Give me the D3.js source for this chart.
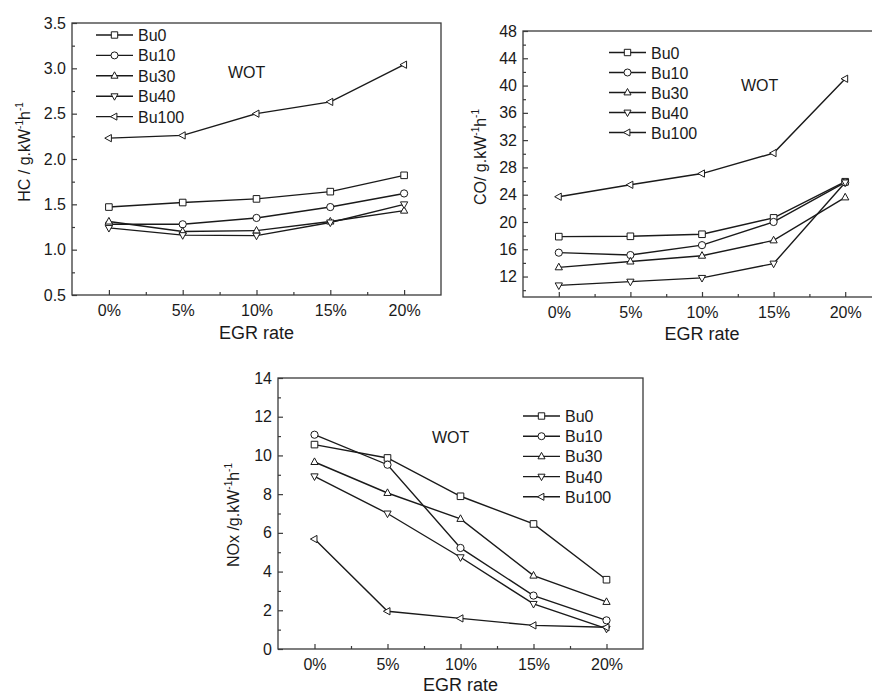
<!DOCTYPE html>
<html>
<head>
<meta charset="utf-8">
<script src="https://cdn.jsdelivr.net/npm/d3@7"></script>
<style>
  body { margin: 0; background: #fff; }
  svg { display: block; font-family: "Liberation Sans", Arial, sans-serif; }
</style>
</head>
<body>
<div id="plot"></div>
<script>
// EGR rate categories (%)
var egr = [0, 5, 10, 15, 20];
var egrLabels = ["0%", "5%", "10%", "15%", "20%"];
var fuels = ["Bu0", "Bu10", "Bu30", "Bu40", "Bu100"];

// HC / g.kW-1h-1
var hcBu0   = [1.47, 1.52, 1.56, 1.64, 1.82];
var hcBu10  = [1.28, 1.28, 1.35, 1.47, 1.62];
var hcBu30  = [1.31, 1.20, 1.21, 1.31, 1.43];
var hcBu40  = [1.24, 1.16, 1.155, 1.30, 1.50];
var hcBu100 = [2.23, 2.26, 2.50, 2.63, 3.04];

// CO / g.kW-1h-1
var coBu0   = [17.85, 17.9, 18.2, 20.6, 25.9];
var coBu10  = [15.5, 15.15, 16.6, 20.0, 25.8];
var coBu30  = [13.35, 14.2, 15.05, 17.3, 23.6];
var coBu40  = [10.7, 11.25, 11.8, 13.9, 25.8];
var coBu100 = [23.7, 25.45, 27.1, 30.1, 41.0];

// NOx / g.kW-1h-1
var noxBu0   = [10.56, 9.87, 7.89, 6.46, 3.58];
var noxBu10  = [11.07, 9.52, 5.22, 2.76, 1.48];
var noxBu30  = [9.66, 8.06, 6.72, 3.79, 2.43];
var noxBu40  = [8.92, 7.0, 4.74, 2.33, 1.05];
var noxBu100 = [5.68, 1.95, 1.58, 1.22, 1.12];

var markers = ["square", "circle", "up", "down", "left"];

var svg = d3.select("#plot").append("svg")
    .attr("width", 872)
    .attr("height", 695);

function markerPath(type, r) {
    if (type === "square") return "M" + (-r) + "," + (-r) + "h" + 2 * r + "v" + 2 * r + "h" + (-2 * r) + "Z";
    if (type === "circle") return d3.symbol().type(d3.symbolCircle).size(Math.PI * r * r * 1.2)();
    var a = r * 1.25, b = r * 1.1;
    if (type === "up") return "M0," + (-a) + "L" + b + "," + (a * 0.6) + "L" + (-b) + "," + (a * 0.6) + "Z";
    if (type === "down") return "M0," + a + "L" + b + "," + (-a * 0.6) + "L" + (-b) + "," + (-a * 0.6) + "Z";
    return "M" + (-a) + ",0L" + (a * 0.6) + "," + (-b) + "L" + (a * 0.6) + "," + b + "Z";
}

function drawPanel(cfg) {
    var x = d3.scaleLinear().domain([-2.5, 22.5]).range([cfg.left, cfg.right]);
    var y = d3.scaleLinear().domain(cfg.yDomain).range([cfg.bottom, cfg.top]);
    var g = svg.append("g");

    // frame
    g.append("rect")
        .attr("x", cfg.left).attr("y", cfg.top)
        .attr("width", cfg.right - cfg.left).attr("height", cfg.bottom - cfg.top)
        .attr("fill", "none").attr("stroke", "#3a3a3a").attr("stroke-width", 1.3);

    // y axis, ticks inside
    var yAx = g.append("g").attr("transform", "translate(" + cfg.left + ",0)")
        .call(d3.axisRight(y).tickValues(cfg.yMinor).tickSize(3).tickFormat(""));
    yAx.select(".domain").remove();
    var yAx2 = g.append("g").attr("transform", "translate(" + cfg.left + ",0)")
        .call(d3.axisRight(y).tickValues(cfg.yMajor).tickSize(5).tickFormat(cfg.yFormat));
    yAx2.select(".domain").remove();
    yAx2.selectAll("text")
        .attr("x", -6).attr("text-anchor", "end")
        .style("font-size", "16px").attr("fill", "#1a1a1a");

    // x axis, ticks inside
    var xAx = g.append("g").attr("transform", "translate(0," + cfg.bottom + ")")
        .call(d3.axisTop(x).tickValues([2.5, 7.5, 12.5, 17.5]).tickSize(3).tickFormat(""));
    xAx.select(".domain").remove();
    var xAx2 = g.append("g").attr("transform", "translate(0," + cfg.bottom + ")")
        .call(d3.axisTop(x).tickValues(egr).tickSize(5).tickFormat(function (d, i) { return egrLabels[i]; }));
    xAx2.select(".domain").remove();
    xAx2.selectAll("text")
        .attr("y", 21).attr("dy", null)
        .style("font-size", "16px").attr("fill", "#1a1a1a");
    g.selectAll(".tick line").attr("stroke", "#3a3a3a").attr("stroke-width", 1.2);

    // axis titles
    g.append("text")
        .attr("x", (cfg.left + cfg.right) / 2).attr("y", cfg.bottom + cfg.xTitleGap)
        .attr("text-anchor", "middle").style("font-size", "18px").attr("fill", "#1a1a1a")
        .text("EGR rate");

    var yt = g.append("text")
        .attr("transform", "translate(" + cfg.titleX + "," + cfg.titleY + ") rotate(-90)")
        .attr("text-anchor", "middle").style("font-size", "16px").attr("fill", "#1a1a1a");
    yt.append("tspan").text(cfg.yTitle);
    yt.append("tspan").attr("dy", -7).style("font-size", "10px").text("-1");
    yt.append("tspan").attr("dy", 7).text("h");
    yt.append("tspan").attr("dy", -7).style("font-size", "10px").text("-1");

    // series
    var line = d3.line()
        .x(function (d, i) { return x(egr[i]); })
        .y(function (d) { return y(d); });

    cfg.series.forEach(function (s, k) {
        g.append("path").datum(s)
            .attr("d", line)
            .attr("fill", "none").attr("stroke", "#1a1a1a").attr("stroke-width", 1.4);
    });
    cfg.series.forEach(function (s, k) {
        g.selectAll(null).data(s).enter().append("path")
            .attr("transform", function (d, i) { return "translate(" + x(egr[i]) + "," + y(d) + ")"; })
            .attr("d", markerPath(markers[k], 3.3))
            .attr("fill", "#fff").attr("stroke", "#1a1a1a").attr("stroke-width", 1);
    });

    // legend
    fuels.forEach(function (f, k) {
        var ly = cfg.legY + k * cfg.legStep;
        g.append("line")
            .attr("x1", cfg.legX).attr("x2", cfg.legX + 37)
            .attr("y1", ly).attr("y2", ly)
            .attr("stroke", "#1a1a1a").attr("stroke-width", 1.4);
        g.append("path")
            .attr("transform", "translate(" + (cfg.legX + 18.5) + "," + ly + ")")
            .attr("d", markerPath(markers[k], 3.2))
            .attr("fill", "#fff").attr("stroke", "#1a1a1a").attr("stroke-width", 1);
        g.append("text")
            .attr("x", cfg.legX + 42).attr("y", ly + 6)
            .style("font-size", "16px").attr("fill", "#1a1a1a")
            .text(f);
    });

    g.append("text")
        .attr("x", cfg.wotX).attr("y", cfg.wotY)
        .style("font-size", "16px").attr("fill", "#1a1a1a")
        .text("WOT");
}

drawPanel({
    left: 72, right: 441, top: 23, bottom: 295,
    yDomain: [0.5, 3.5],
    yMajor: d3.range(0.5, 3.51, 0.5),
    yMinor: d3.range(0.75, 3.4, 0.5),
    yFormat: d3.format(".1f"),
    yTitle: "HC / g.kW",
    titleX: 30, titleY: 152,
    xTitleGap: 44,
    series: [hcBu0, hcBu10, hcBu30, hcBu40, hcBu100],
    legX: 96, legY: 35, legStep: 20.4,
    wotX: 228, wotY: 78
});

drawPanel({
    left: 523, right: 881, top: 31, bottom: 297,
    yDomain: [9, 48],
    yMajor: d3.range(12, 48.1, 4),
    yMinor: d3.range(10, 47, 4),
    yFormat: d3.format("d"),
    yTitle: "CO/ g.kW",
    titleX: 486, titleY: 157,
    xTitleGap: 43,
    series: [coBu0, coBu10, coBu30, coBu40, coBu100],
    legX: 609, legY: 52.5, legStep: 20,
    wotX: 741, wotY: 91
});

drawPanel({
    left: 278, right: 643, top: 378, bottom: 649,
    yDomain: [0, 14],
    yMajor: d3.range(0, 14.1, 2),
    yMinor: d3.range(1, 14, 2),
    yFormat: d3.format("d"),
    yTitle: "NOx /g.kW",
    titleX: 239, titleY: 515,
    xTitleGap: 41.5,
    series: [noxBu0, noxBu10, noxBu30, noxBu40, noxBu100],
    legX: 523, legY: 416, legStep: 20.2,
    wotX: 432, wotY: 443
});
</script>
</body>
</html>
